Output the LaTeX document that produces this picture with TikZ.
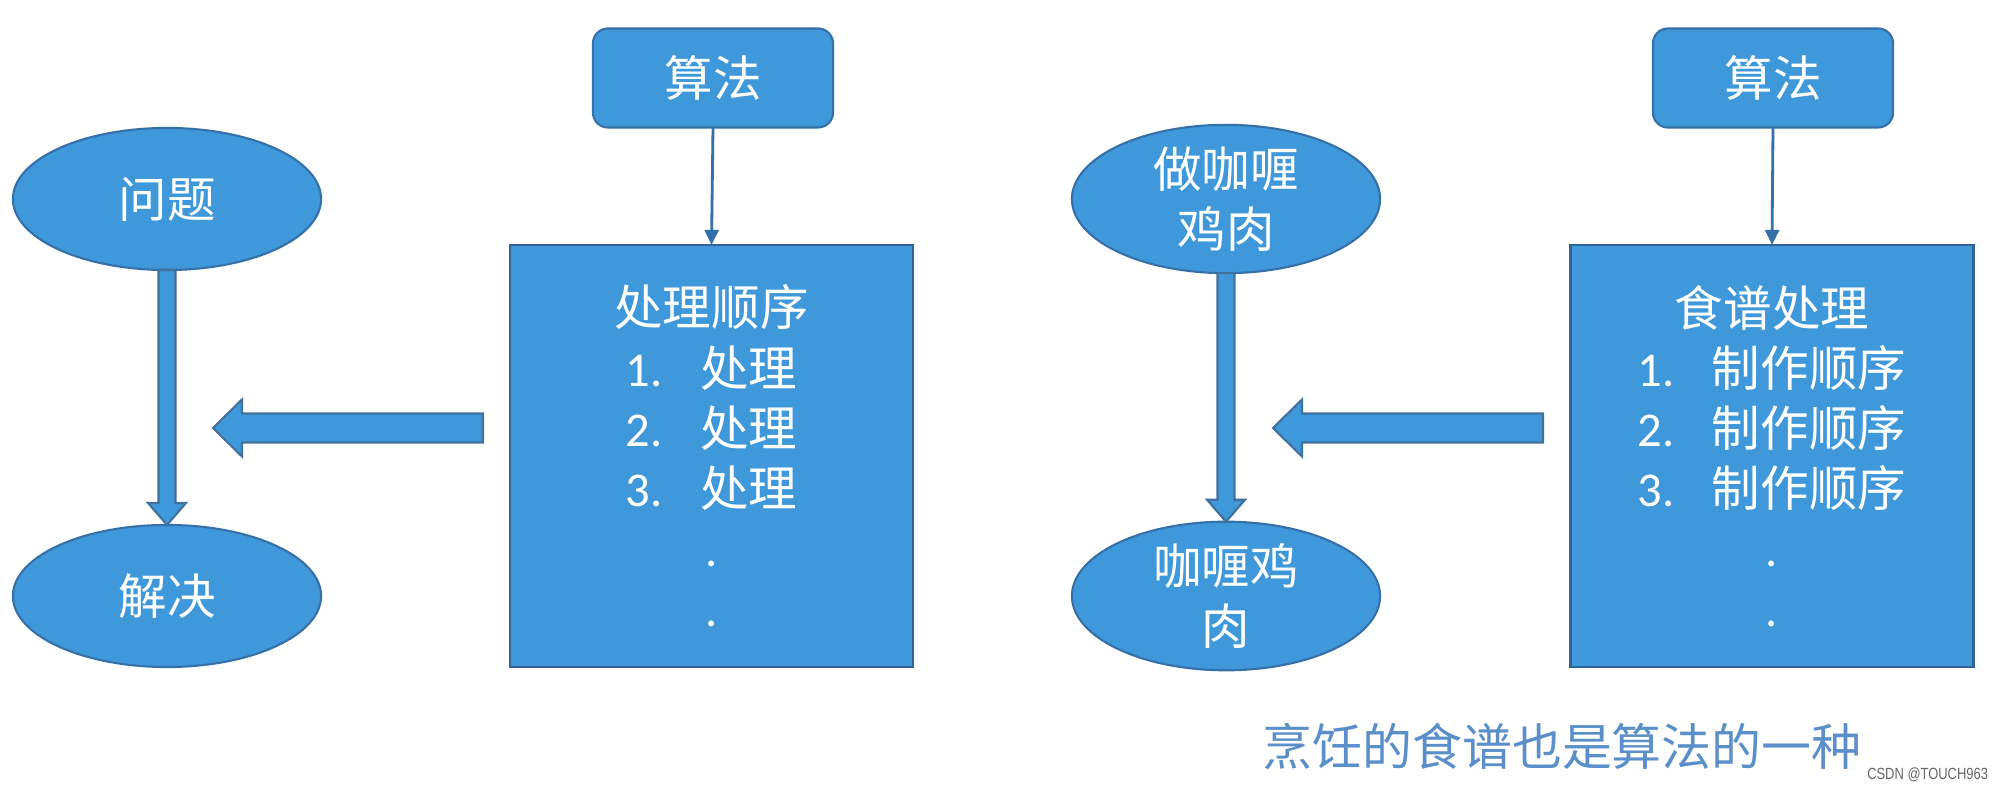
\documentclass[tikz,border=0pt]{standalone}
\usepackage{fontspec}
\newfontfamily\cjk{Noto Sans CJK SC}
\newfontfamily\numf{Carlito}
\newfontfamily\wmf{Liberation Sans}
\usetikzlibrary{calc,shapes.geometric,arrows.meta}
\definecolor{fillblue}{HTML}{3F98DA}
\definecolor{edgeblue}{HTML}{3570A8}
\definecolor{arrowedge}{HTML}{41719C}
\definecolor{capblue}{HTML}{5B8FC9}
\newcommand\numitem[2]{\makebox[0.74cm][l]{\numf #1}#2}
\begin{document}
\begin{tikzpicture}[x=0.01cm,y=-0.01cm,
  every node/.style={inner sep=0pt,outer sep=0pt},
  txt/.style={text=white,font=\cjk\fontsize{13.8}{17.1}\selectfont,align=center},
  oval/.style={ellipse,draw=edgeblue,line width=0.6pt,fill=fillblue,minimum width=3.08cm,minimum height=1.42cm,txt},
  algbox/.style={rectangle,rounded corners=0.15cm,draw=edgeblue,line width=0.6pt,fill=fillblue,minimum width=2.40cm,minimum height=0.99cm,txt},
  bigbox/.style={rectangle,draw=edgeblue!90!black,line width=0.7pt,fill=fillblue,minimum width=4.03cm,minimum height=4.22cm,txt},
  thin/.style={draw=edgeblue,line width=0.8pt,-{Triangle[length=0.15cm,width=0.14cm]}},
  blk/.style={fill=fillblue,draw=arrowedge,line width=0.6pt,line join=miter},
  caption/.style={text=capblue,font=\cjk\fontsize{14.2}{17}\selectfont},
  wm/.style={text=black!60,font=\wmf\fontsize{4.6}{5}\selectfont,xscale=0.8}
]
\useasboundingbox (0,0) rectangle (2000,789);
\fill[white] (0,0) rectangle (2000,789);

% ---------- left diagram ----------
\node[oval] (q) at (167,199) {问题};
\node[oval] (s) at (167,596) {解决};
\node[algbox] (alg1) at (713,78) {算法};
\node[bigbox] (box1) at (711.5,456) {处理顺序\\
  \numitem{1.}{处理}\\
  \numitem{2.}{处理}\\
  \numitem{3.}{处理}\\
  {\numf .}\\
  {\numf .}};
\draw[thin] (alg1.south) -- (box1.north);
\draw[blk] ($(q.south)+(-8.5,0)$) -- ($(s.north)+(-8.5,-22)$) -- ($(s.north)+(-19,-22)$) -- (s.north)
  -- ($(s.north)+(19,-22)$) -- ($(s.north)+(8.5,-22)$) -- ($(q.south)+(8.5,0)$) -- cycle;
\coordinate (t1) at (483,428);
\coordinate (h1) at (213,428);
\draw[blk] ($(t1)+(0,-14.5)$) -- ($(h1)+(29,-14.5)$) -- ($(h1)+(29,-28.5)$) -- (h1)
  -- ($(h1)+(29,28.5)$) -- ($(h1)+(29,14.5)$) -- ($(t1)+(0,14.5)$) -- cycle;

% ---------- right diagram ----------
\node[oval] (c1) at (1226,199) {做咖喱\\鸡肉};
\node[oval] (c2) at (1226,596) {咖喱鸡\\肉};
\node[algbox] (alg2) at (1773,78) {算法};
\node[bigbox] (box2) at (1772,456) {食谱处理\\
  \numitem{1.}{制作顺序}\\
  \numitem{2.}{制作顺序}\\
  \numitem{3.}{制作顺序}\\
  {\numf .}\\
  {\numf .}};
\draw[thin] (alg2.south) -- (box2.north);
\draw[blk] ($(c1.south)+(-8.5,0)$) -- ($(c2.north)+(-8.5,-22)$) -- ($(c2.north)+(-19,-22)$) -- (c2.north)
  -- ($(c2.north)+(19,-22)$) -- ($(c2.north)+(8.5,-22)$) -- ($(c1.south)+(8.5,0)$) -- cycle;
\coordinate (t2) at (1543,428);
\coordinate (h2) at (1273,428);
\draw[blk] ($(t2)+(0,-14.5)$) -- ($(h2)+(29,-14.5)$) -- ($(h2)+(29,-28.5)$) -- (h2)
  -- ($(h2)+(29,28.5)$) -- ($(h2)+(29,14.5)$) -- ($(t2)+(0,14.5)$) -- cycle;

% ---------- caption and watermark ----------
\node[caption] (cap) at (1562,746) {烹饪的食谱也是算法的一种};
\node[wm,anchor=east] (wmark) at (1988,775) {CSDN @TOUCH963};
\end{tikzpicture}
\end{document}
